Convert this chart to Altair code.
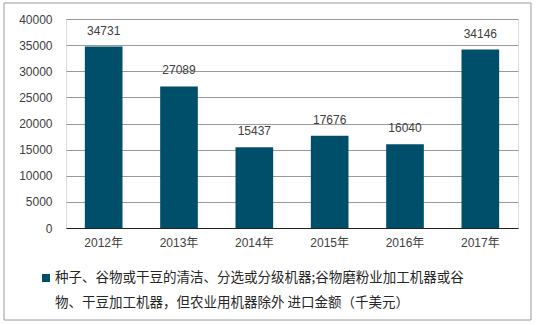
import altair as alt
import pandas as pd

years = ["2012年", "2013年", "2014年", "2015年", "2016年", "2017年"]
values = [34731, 27089, 15437, 17676, 16040, 34146]
y_ticks = [0, 5000, 10000, 15000, 20000, 25000, 30000, 35000, 40000]
series_name = "种子、谷物或干豆的清洁、分选或分级机器;谷物磨粉业加工机器或谷|物、干豆加工机器，但农业用机器除外 进口金额（千美元）"

df = pd.DataFrame({"year": years, "value": values})
legend_df = pd.DataFrame({"series": [series_name]})

FONT = "Liberation Sans, Arial, Noto Sans CJK SC, sans-serif"
CJK = "Noto Sans CJK SC, sans-serif"
BAR = "#004f6a"

x_axis = alt.Axis(labelAngle=0, ticks=False, domain=True, domainColor="#222222",
                  domainWidth=1, labelPadding=9, labelFontSize=12,
                  labelColor="#404040", labelFont=FONT, grid=False)
y_axis = alt.Axis(values=y_ticks, format="d", ticks=False, domain=False, labelOverlap=False,
                  grid=True, gridColor="#9a9a9a", gridWidth=1, labelPadding=14,
                  labelFontSize=12, labelColor="#404040", labelFont=FONT)
x_enc = alt.X("year:N", sort=years, title=None,
              scale=alt.Scale(paddingInner=0.5, paddingOuter=0.25), axis=x_axis)
y_enc = alt.Y("value:Q", title=None, scale=alt.Scale(domain=[0, 40000]), axis=y_axis)

base = alt.Chart(df)

bars = base.mark_bar(color=BAR).encode(x=x_enc, y=y_enc)

labels = base.mark_text(baseline="bottom", dy=-9, fontSize=12, font=FONT, color="#404040").encode(
    x=x_enc,
    y=y_enc,
    text=alt.Text("value:Q", format="d"),
)

leg = alt.Chart(legend_df)
leg_sym = leg.mark_square(size=64, color=BAR, opacity=1).encode(
    x=alt.value(-20), y=alt.value(259)
)
leg_txt = leg.mark_text(align="left", baseline="middle", font=CJK, fontSize=13.5,
                        color="#262626", lineBreak="|", lineHeight=25).encode(
    x=alt.value(-11), y=alt.value(259), text="series:N"
)

border = alt.Chart(pd.DataFrame({"a": [0]})).mark_rect(fill=None, stroke="#9a9a9a", strokeWidth=1).encode(
    x=alt.value(-62), x2=alt.value(465), y=alt.value(-16), y2=alt.value(301)
)

chart = alt.layer(bars, labels, leg_sym, leg_txt, border).properties(
    width=452, height=209,
    autosize=alt.AutoSizeParams(type="none"),
    padding={"left": 66, "top": 19, "right": 20, "bottom": 97},
).configure_view(stroke=None).configure(background="white")

chart.save("out.html", embed_options={"renderer": "svg", "actions": False})
